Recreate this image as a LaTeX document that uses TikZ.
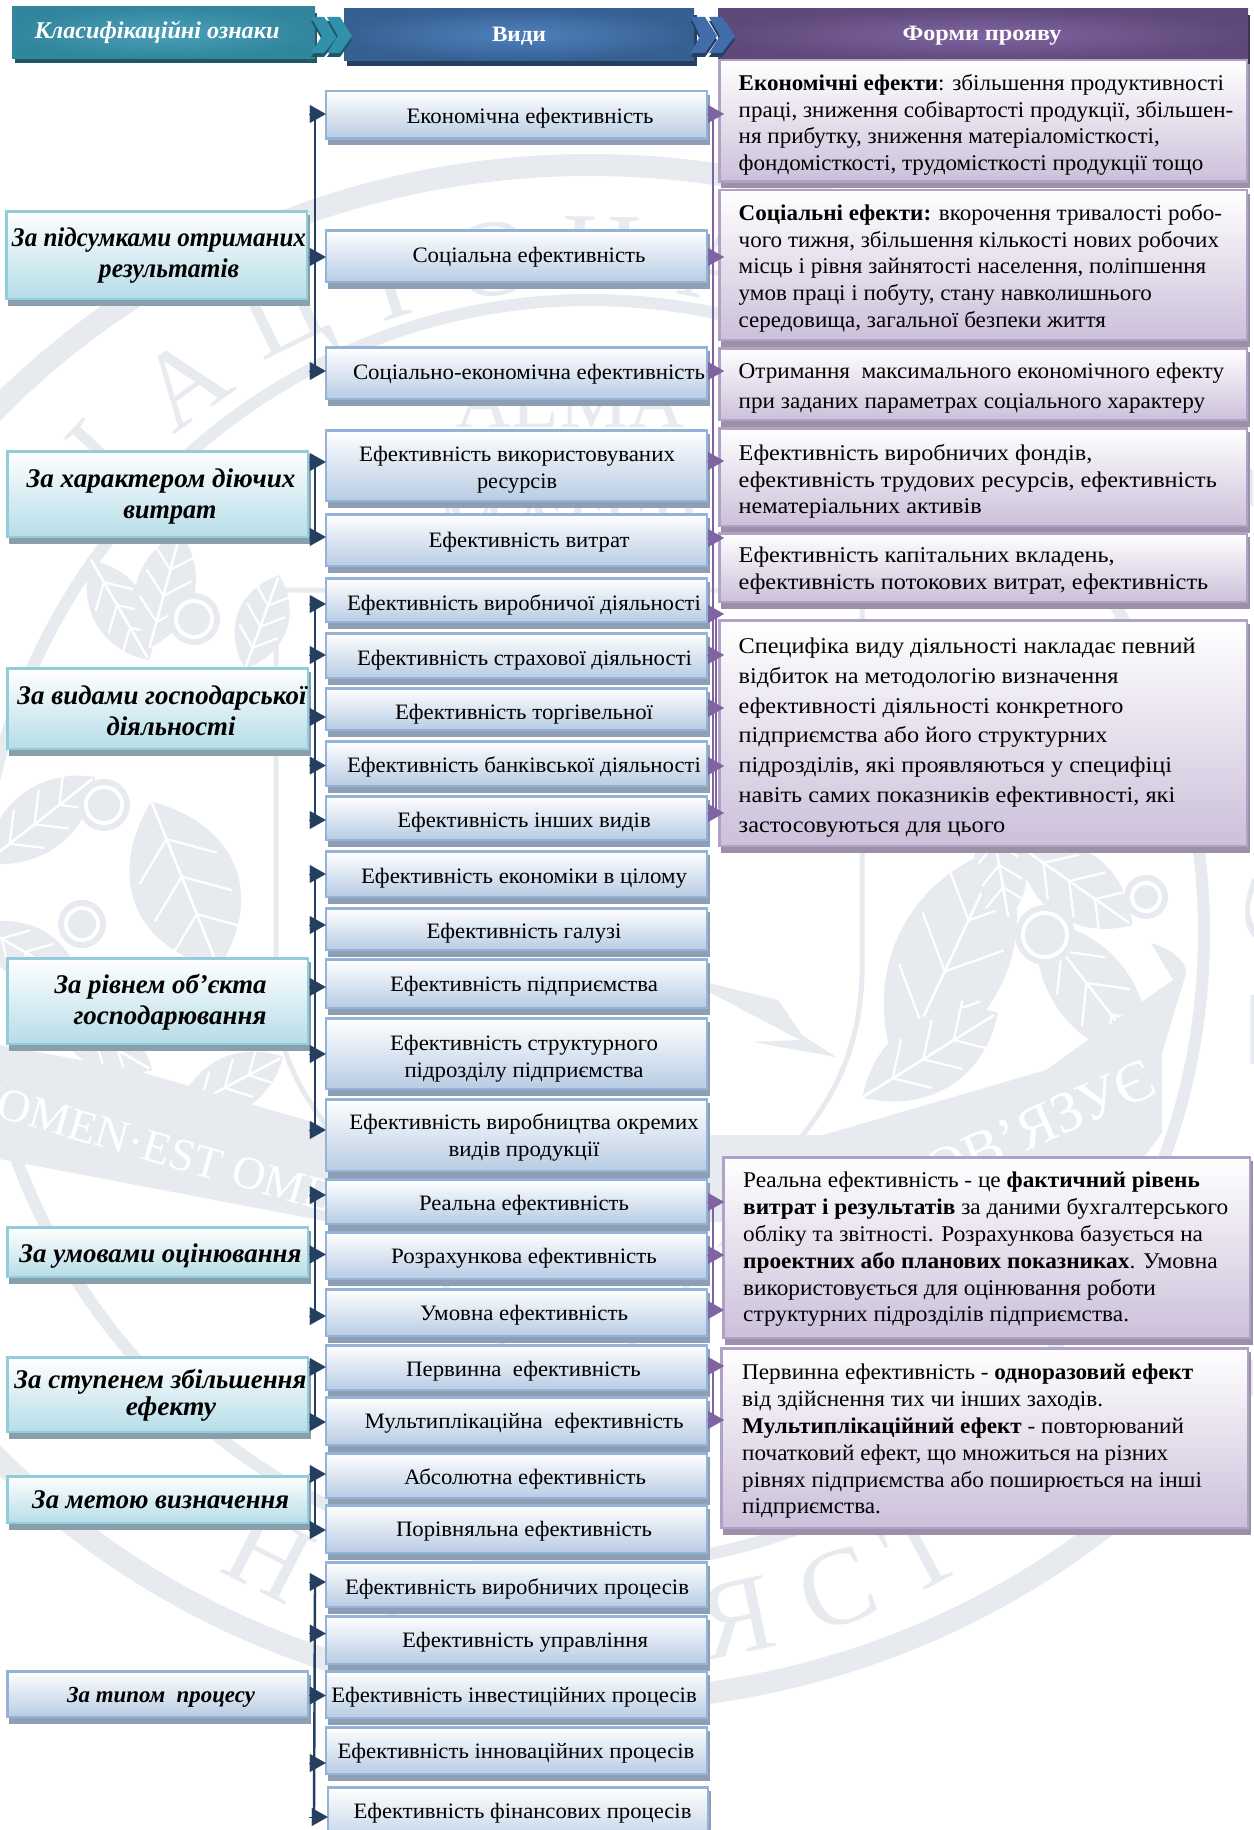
\documentclass[tikz,border=0pt]{standalone}
\usepackage{fontspec}
\usepackage{graphicx}
\setmainfont{Liberation Serif}
\usetikzlibrary{arrows.meta}
\definecolor{wm}{HTML}{E7EAEF}
\definecolor{navy}{HTML}{243F60}
\definecolor{purp}{HTML}{8064A2}
\definecolor{shM}{HTML}{8E9FB5}
\definecolor{shL}{HTML}{8A9FAB}
\definecolor{shR}{HTML}{9C90A9}
\newsavebox\fitbox
\newcommand\fitx[2]{\sbox\fitbox{#2}\pgfmathsetmacro\fitr{#1/\wd\fitbox}\scalebox{\fitr}[1]{\usebox\fitbox}}
\newcommand\rln[1]{\scalebox{\rr}[1]{#1}}
\def\rr{1}
\tikzset{
  x=1pt,y=-1pt,
  gbase/.style={rectangle,inner sep=0,outer sep=0,anchor=north west},
  midbox/.style={gbase,draw={rgb,255:red,149;green,179;blue,215},line width=2.5pt,top color=white,bottom color={rgb,255:red,184;green,204;blue,228}},
  leftbox/.style={gbase,draw={rgb,255:red,146;green,205;blue,220},line width=2.5pt,top color=white,bottom color={rgb,255:red,182;green,221;blue,232}},
  rightbox/.style={gbase,draw={rgb,255:red,178;green,161;blue,199},line width=2.5pt,top color=white,bottom color={rgb,255:red,204;green,192;blue,218}},
  hdrA/.style={gbase,inner color={rgb,255:red,75;green,160;blue,185},outer color={rgb,255:red,49;green,133;blue,156}},
  hdrB/.style={gbase,inner color={rgb,255:red,79;green,129;blue,189},outer color={rgb,255:red,54;green,96;blue,146}},
  hdrC/.style={gbase,inner color={rgb,255:red,128;green,100;blue,162},outer color={rgb,255:red,95;green,73;blue,122}},
  midtext/.style={inner sep=0,align=center,yshift=-2pt,font=\fontsize{22}{27}\selectfont},
  lefttext/.style={inner sep=0,align=center,yshift=-2pt,font=\fontsize{27}{31}\selectfont\bfseries\itshape},
  righttext/.style={inner sep=0,align=left,anchor=north west,yshift=-2pt,font=\fontsize{22.5}{26.8}\selectfont},
  hdrtext/.style={inner sep=0,text=white,yshift=-2pt,font=\fontsize{22}{26}\selectfont\bfseries},
  lbus/.style={draw=navy,line width=2.4pt},
  rbus/.style={draw=purp,line width=2pt},
  ltip/.style={draw=navy,fill=navy,line width=.2pt,-{Triangle[length=16pt,width=18pt]}},
  rtip/.style={draw=purp,fill=purp,line width=.2pt,-{Triangle[length=16pt,width=18pt]}},
  wmletter/.style={text=wm,inner sep=0,font=\fontsize{110}{112}\selectfont},
}
\newcommand\gbox[7]{% shadow colour, style, name, x1,y1,x2,y2
  \fill[#1] ({#4+3},{#5+5}) rectangle ({#6+1.5},{#7+5.5});
  \node[#2,minimum width={(#6-#4-2.5)*1pt},minimum height={(#7-#5-2.5)*1pt}] (#3) at ({#4+1.25},{#5+1.25}) {};
}
\newcommand\mb[6]{\gbox{shM}{midbox}{#1}{324.5}{#2}{708}{#3}\node[midtext] (#1t) at (#4,#5) {#6};}
\newcommand\wleaf[5]{%
 \begin{scope}[shift={(#1,#2)},rotate=#3]
  \fill[wm] (-#4,0) .. controls ({-#4*.4},{-#5*1.25}) and ({#4*.45},{-#5*1.2}) .. (#4,0) .. controls ({#4*.45},{#5*1.2}) and ({-#4*.4},{#5*1.25}) .. (-#4,0);
  \draw[white,line width=2.5pt] (-#4,0) -- ({#4*.95},0);
  \foreach \f in {-.55,-.1,.35}{
   \draw[white,line width=2.2pt] ({#4*\f},0) -- ({#4*(\f+.35)},{-#5*.72});
   \draw[white,line width=2.2pt] ({#4*\f},0) -- ({#4*(\f+.35)},{#5*.72});}
 \end{scope}}
\newcommand\wberry[3]{\fill[wm] (#1,#2) circle[radius={(#3+10)*1pt}];\fill[white] (#1,#2) circle[radius={(#3+4)*1pt}];\fill[wm] (#1,#2) circle[radius={#3*1pt}];}
\newcommand\wlet[3]{\node[wmletter,rotate=#3] at ({590+707*cos(#2)},{933-700*sin(#2)}) {#1};}
\newcommand\wlettop[3]{\node[wmletter,rotate=#3] at ({590+690*cos(#2)},{933-680*sin(#2)}) {#1};}
\begin{document}
\begin{tikzpicture}
\clip (0,0) rectangle (1253,1830);
\fill[white] (0,0) rectangle (1253,1830);
% ---------- watermark ----------
\draw[wm,line width=22pt] (590,933) ellipse[x radius=812pt,y radius=768pt];
\draw[wm,line width=12pt] (590,933) ellipse[x radius=614pt,y radius=633pt];
\foreach \l/\t in {Н/137,А/126,Ц/116,І/107,О/98,Н/89,А/79,Л/69,Ь/60,Н/50,А/40}{\wlettop{\l}{\t}{\t-90}}
\foreach \l/\t in {Н/243,І/254,Я/282,С/290.5,Т/298}{\wlet{\l}{\t}{\t+90}}
\node[wmletter,rotate=90,font=\fontsize{120}{120}\selectfont] at (1290,1030) {Т};
\node[wmletter,rotate=82,font=\fontsize{120}{120}\selectfont] at (1285,915) {С};
\node[wmletter,font=\fontsize{78}{80}\selectfont] at (570,402) {ALMA};
\node[wmletter,font=\fontsize{78}{80}\selectfont] at (570,525) {MATER};
\draw[wm,line width=5pt] (276,1000) -- (276,590) -- (862,590) -- (862,973) .. controls (860,1060) and (825,1110) .. (788,1153) .. controls (720,1260) and (640,1340) .. (569,1400) .. controls (490,1340) and (410,1260) .. (350,1153) .. controls (310,1110) and (278,1060) .. (276,1000);
% arrow shape
\fill[wm] (709,983) -- (778,1000) -- (802,1035) -- (836,1057) -- (753,1042) -- (800,1040) -- (709,992) -- cycle;
% right wreath
\wleaf{950}{960}{65}{125}{62}
\wleaf{930}{1055}{32}{80}{40}
\wleaf{1092}{990}{-52}{90}{42}
\wleaf{1075}{885}{-35}{70}{38}
\wleaf{1000}{870}{-80}{50}{28}
\wberry{1045}{935}{20}
\wberry{1146}{897}{12}
% left wreath
\wleaf{185}{885}{-68}{90}{58}
\wleaf{40}{820}{38}{70}{34}
\wleaf{30}{955}{-30}{60}{30}
\wleaf{120}{610}{-60}{58}{30}
\wleaf{262}{622}{70}{50}{28}
\wleaf{165}{590}{75}{60}{32}
\wleaf{230}{1085}{28}{60}{30}
\wleaf{100}{1040}{-30}{60}{28}
\wberry{194}{619}{16}
\wberry{104}{805}{16}
\wberry{82}{924}{14}
% banners
\fill[wm] (0,1045) -- (134,1070) -- (357,1135) -- (823,1135) -- (1046,1070) -- (1109,1025) -- (1173,980) -- (1151,943) .. controls (1175,950) and (1190,965) .. (1185,977) -- (1162,1053) -- (1162,1133) -- (1144,1157) -- (900,1222) -- (330,1222) -- (0,1159) -- cycle;
\node[text=white,inner sep=0,rotate=-16,font=\fontsize{46}{48}\selectfont] at (165,1150) {NOMEN·EST OMEN};
\node[text=white,inner sep=0,rotate=24,anchor=east,font=\fontsize{58}{60}\selectfont] at (1152,1075) {ІМ'Я ЗОБОВ'ЯЗУЄ};
% ---------- headers ----------
\fill[fill={rgb,255:red,32;green,88;blue,103}] (15,13) rectangle (317,63);
\node[hdrA,minimum width=303pt,minimum height=52pt] (h1) at (12,7) {};
\fill[fill={rgb,255:red,36;green,64;blue,97}] (347,15) rectangle (697,66);
\node[hdrB,minimum width=350pt,minimum height=52pt] (h2) at (344,9) {};
\fill[fill={rgb,255:red,63;green,49;blue,81}] (720,15) rectangle (1250,65);
\node[hdrC,minimum width=530pt,minimum height=52pt] (h3) at (718,9) {};
% chevrons
\fill[fill={rgb,255:red,32;green,88;blue,103}] (311,21) -- (324,21) -- (338,40) -- (324,57) -- (311,57) -- (322,40) -- cycle;
\fill[fill={rgb,255:red,49;green,145;blue,170}] (311,17) -- (324,17) -- (338,36) -- (324,53) -- (311,53) -- (322,36) -- cycle;
\fill[fill={rgb,255:red,32;green,88;blue,103}] (327,21) -- (340,21) -- (352,40) -- (340,57) -- (327,57) -- (338,40) -- cycle;
\fill[fill={rgb,255:red,49;green,145;blue,170}] (327,17) -- (340,17) -- (352,36) -- (340,53) -- (327,53) -- (338,36) -- cycle;
\fill[fill={rgb,255:red,36;green,64;blue,97}] (691,21) -- (705,21) -- (717,40) -- (705,57) -- (691,57) -- (700,40) -- cycle;
\fill[fill={rgb,255:red,65;green,110;blue,170}] (691,17) -- (705,17) -- (717,36) -- (705,53) -- (691,53) -- (700,36) -- cycle;
\fill[fill={rgb,255:red,36;green,64;blue,97}] (709,21) -- (722,21) -- (735,40) -- (722,57) -- (709,57) -- (720,40) -- cycle;
\fill[fill={rgb,255:red,65;green,110;blue,170}] (709,17) -- (722,17) -- (735,36) -- (722,53) -- (709,53) -- (720,36) -- cycle;
\node[hdrtext,font=\fontsize{24}{26}\selectfont\bfseries\itshape] (h1t) at (157,30) {\fitx{245}{Класифікаційні ознаки}};
\node[hdrtext] (h2t) at (519,34) {\fitx{54}{Види}};
\node[hdrtext] (h3t) at (982,34) {\fitx{159}{Форми прояву}};
% ---------- left boxes ----------
\gbox{shL}{leftbox}{c1}{5}{210}{308}{300}
\node[lefttext] (c1t) at (159,254) {\fitx{294}{За підсумками отриманих}\\\hspace*{20pt}\fitx{140}{результатів}};
\gbox{shL}{leftbox}{c2}{6}{450}{309}{538}
\node[lefttext] (c2t) at (161,495) {\fitx{269}{За характером діючих}\\\hspace*{18pt}\fitx{93}{витрат}};
\gbox{shL}{leftbox}{c3}{6}{667}{309}{750}
\node[lefttext] (c3t) at (162,709) {\fitx{289}{За видами господарської}\\\hspace*{18pt}\fitx{129}{діяльності}};
\gbox{shL}{leftbox}{c4}{6}{957}{309}{1045}
\node[lefttext] (c4t) at (160.5,1000) {\fitx{212}{За рівнем об'єкта}\\\hspace*{19pt}\fitx{193}{господарювання}};
\gbox{shL}{leftbox}{c5}{6}{1226}{309}{1278}
\node[lefttext] (c5t) at (160.5,1254) {\fitx{282}{За умовами оцінювання}};
\gbox{shL}{leftbox}{c6}{6}{1356}{309}{1433}
\node[lefttext,font=\fontsize{27}{27}\selectfont\bfseries\itshape] (c6t) at (160.5,1393) {\fitx{292}{За ступенем збільшення}\\\hspace*{21pt}\fitx{90}{ефекту}};
\gbox{shL}{leftbox}{c7}{6}{1475}{309}{1524}
\node[lefttext] (c7t) at (160.7,1498) {\fitx{257}{За метою визначення}};
\gbox{shM}{midbox}{c8}{6}{1670}{309}{1718}
\node[lefttext,font=\fontsize{23}{27}\selectfont\bfseries\itshape] (c8t) at (161,1695.5) {\fitx{188}{За типом\ \ процесу}};
% ---------- middle boxes ----------
\mb{m1}{90}{140}{530}{116}{\fitx{247}{Економічна ефективність}}
\mb{m2}{229}{283}{529}{255}{\fitx{233}{Соціальна ефективність}}
\mb{m3}{346}{400}{529}{372}{\fitx{352}{Соціально-економічна ефективність}}
\mb{m4}{429}{502}{517}{468}{\fitx{316}{Ефективність використовуваних}\\\fitx{80}{ресурсів}}
\mb{m5}{513}{567}{529}{540}{\fitx{201}{Ефективність витрат}}
\mb{m6}{577}{623}{524}{603}{\fitx{354}{Ефективність виробничої діяльності}}
\mb{m7}{632}{679}{524.5}{658}{\fitx{335}{Ефективність страхової діяльності}}
\mb{m8}{687}{731}{524}{712}{\fitx{258}{Ефективність торгівельної}}
\mb{m9}{740}{787}{524}{765}{\fitx{354}{Ефективність банківської діяльності}}
\mb{m10}{795}{841}{524}{820}{\fitx{253.5}{Ефективність інших видів}}
\mb{m11}{850}{898}{524}{876}{\fitx{326}{Ефективність економіки в цілому}}
\mb{m12}{907}{951}{524}{931.5}{\fitx{195}{Ефективність галузі}}
\mb{m13}{958}{1009}{524}{984}{\fitx{268}{Ефективність підприємства}}
\mb{m14}{1017}{1090}{524}{1056.5}{\fitx{268}{Ефективність структурного}\\\fitx{239}{підрозділу підприємства}}
\mb{m15}{1098}{1172}{524}{1135}{\fitx{349.5}{Ефективність виробництва окремих}\\\fitx{151}{видів продукції}}
\mb{m16}{1178}{1225}{524}{1203}{\fitx{210}{Реальна ефективність}}
\mb{m17}{1231}{1280}{524}{1256}{\fitx{265.6}{Розрахункова ефективність}}
\mb{m18}{1288}{1337}{524}{1313}{\fitx{208}{Умовна ефективність}}
\mb{m19}{1344}{1391}{523.5}{1369}{\fitx{234.6}{Первинна\ \ ефективність}}
\mb{m20}{1396}{1446}{524}{1421}{\fitx{319}{Мультиплікаційна\ \ ефективність}}
\mb{m21}{1452}{1499}{525}{1476.5}{\fitx{242}{Абсолютна ефективність}}
\mb{m22}{1504}{1554}{524}{1529}{\fitx{256}{Порівняльна ефективність}}
\mb{m23}{1561}{1608}{517}{1587}{\fitx{344}{Ефективність виробничих процесів}}
\mb{m24}{1615}{1665}{525}{1640}{\fitx{246}{Ефективність управління}}
\mb{m25}{1670}{1719}{514}{1695.5}{\fitx{365.5}{Ефективність інвестиційних процесів}}
\mb{m26}{1726}{1775}{516}{1751.5}{\fitx{357}{Ефективність інноваційних процесів}}
\gbox{shM}{midbox}{m27}{326.5}{1786}{709}{1850}
\node[midtext] (m27t) at (522.5,1811) {\fitx{338}{Ефективність фінансових процесів}};
% ---------- right boxes ----------
\gbox{shR}{rightbox}{r1}{718}{59}{1248}{183}
\gbox{shR}{rightbox}{r2}{718}{189}{1248}{341}
\gbox{shR}{rightbox}{r3}{718}{347}{1248}{421}
\gbox{shR}{rightbox}{r4}{718}{427}{1248}{527}
\gbox{shR}{rightbox}{r5}{718}{532}{1248}{603}
\gbox{shR}{rightbox}{r6}{718}{619}{1248}{847}
\gbox{shR}{rightbox}{r7}{722}{1156}{1251}{1339}
\gbox{shR}{rightbox}{r8}{720}{1347}{1249}{1529}
\def\rr{1.025}
\node[righttext] (r1t) at (738.5,72) {\rln{\textbf{Економічні ефекти}: збільшення продуктивності}\\\rln{праці, зниження собівартості продукції, збільшен-}\\\rln{ня прибутку, зниження матеріаломісткості,}\\\rln{фондомісткості, трудомісткості продукції тощо}};
\node[righttext] (r2t) at (738.5,202) {\rln{\textbf{Соціальні ефекти:} вкорочення тривалості робо-}\\\rln{чого тижня, збільшення кількості нових робочих}\\\rln{місць і рівня зайнятості населення, поліпшення}\\\rln{умов праці і побуту, стану навколишнього}\\\rln{середовища, загальної безпеки життя}};
\def\rr{1.03}
\node[righttext,font=\fontsize{22.5}{30}\selectfont] (r3t) at (738.5,361) {\rln{Отримання\ \ максимального економічного ефекту}\\\rln{при заданих параметрах соціального характеру}};
\def\rr{1.078}
\node[righttext] (r4t) at (738.5,442) {\rln{Ефективність виробничих фондів,}\\\rln{ефективність трудових ресурсів, ефективність}\\\rln{нематеріальних активів}};
\node[righttext] (r5t) at (738.5,545) {\rln{Ефективність капітальних вкладень,}\\\rln{ефективність потокових витрат, ефективність}};
\node[righttext,font=\fontsize{22.5}{29.7}\selectfont] (r6t) at (738.5,636) {\rln{Специфіка виду діяльності накладає певний}\\\rln{відбиток на методологію визначення}\\\rln{ефективності діяльності конкретного}\\\rln{підприємства або його структурних}\\\rln{підрозділів, які проявляються у специфіці}\\\rln{навіть самих показників ефективності, які}\\\rln{застосовуються для цього}};
\def\rr{1.035}
\node[righttext] (r7t) at (743,1170) {\rln{Реальна ефективність - це \textbf{фактичний рівень}}\\\rln{\textbf{витрат і результатів} за даними бухгалтерського}\\\rln{обліку та звітності. Розрахункова базується на}\\\rln{\textbf{проектних або планових показниках}. Умовна}\\\rln{використовується для оцінювання роботи}\\\rln{структурних підрозділів підприємства.}};
\def\rr{1.03}
\node[righttext] (r8t) at (742,1362) {\rln{Первинна ефективність - \textbf{одноразовий ефект}}\\\rln{від здійснення тих чи інших заходів.}\\\rln{\textbf{Мультиплікаційний ефект} - повторюваний}\\\rln{початковий ефект, що множиться на різних}\\\rln{рівнях підприємства або поширюється на інші}\\\rln{підприємства.}};
% ---------- connectors ----------
\foreach \m/\y in {m1/114,m2/257,m3/371,m4/462,m5/537,m6/604,m7/655,m8/717,m9/765.5,m10/820,m11/874,m12/925,m13/987,m14/1054,m15/1130,m16/1195,m17/1254.5,m18/1316,m19/1367,m20/1422,m21/1474,m22/1530,m23/1582,m24/1633.5,m25/1695.5,m26/1763}{
  \coordinate (l\m) at (315,\y);
  \coordinate (s\m) at (309,\y);
}
\coordinate (lm27) at (314,1817); \coordinate (sm27) at (309,1817);
\draw[lbus] (lm1) -- (lm3);
\draw[lbus] (lm4) -- (lm5);
\draw[lbus] (lm6) -- (lm10);
\draw[lbus] (lm11) -- (lm15);
\draw[lbus] (lm16) -- (lm18);
\draw[lbus] (lm19) -- (lm20);
\draw[lbus] (lm21) -- (lm22);
\draw[lbus] (lm23) -- (lm27);
\foreach \m in {m1,m2,m3,m4,m5,m6,m7,m8,m9,m10,m11,m12,m13,m14,m15,m16,m17,m18,m19,m20,m21,m22,m23,m24,m25,m26,m27}{
  \draw[ltip] (s\m) -- (\m.west |- s\m);
}
\foreach \m/\y in {m1/114,m2/257,m3/371,m4/461,m5/538,m6/614,m7/655,m8/708,m9/766,m10/813,m16/1202,m17/1255,m18/1310,m19/1366,m20/1420}{
  \coordinate (b\m) at (713,\y);
  \coordinate (e\m) at (724,\y);
}
\draw[rbus] (bm1) -- (bm10);
\draw[rbus] ([xshift=2.5pt]bm6) -- ([xshift=2.5pt]bm10);
\draw[rbus] (bm16) -- (bm18);
\draw[rbus] (bm19) -- (bm20);
\foreach \m in {m1,m2,m3,m4,m5,m6,m7,m8,m9,m10,m16,m17,m18,m19,m20}{
  \draw[rtip] (\m.east |- e\m) -- (e\m);
}
\end{tikzpicture}
\end{document}
